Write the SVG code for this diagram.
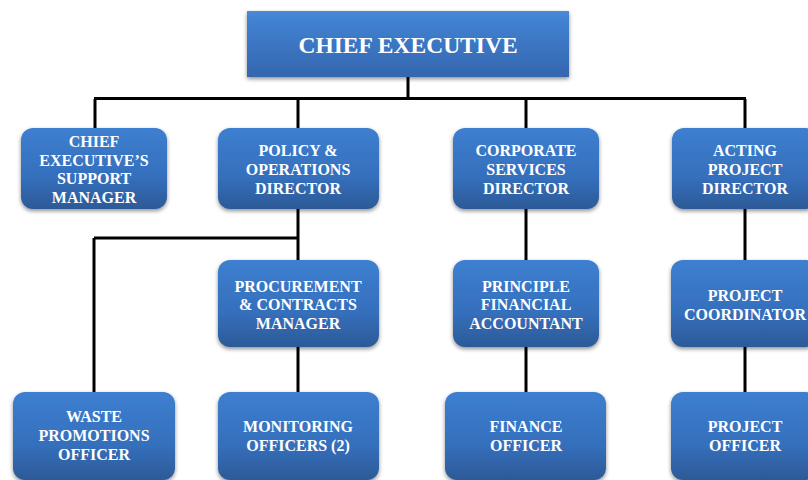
<svg xmlns="http://www.w3.org/2000/svg" width="808" height="480" viewBox="0 0 808 480">
<defs>
<linearGradient id="g" x1="0" y1="0" x2="0" y2="1">
<stop offset="0" stop-color="#3d7fd0"/>
<stop offset="0.6" stop-color="#356fbc"/>
<stop offset="1" stop-color="#2c5a97"/>
</linearGradient>
<linearGradient id="gt" x1="0" y1="0" x2="0" y2="1">
<stop offset="0" stop-color="#4a8ad8"/>
<stop offset="0.1" stop-color="#4283d3"/>
<stop offset="1" stop-color="#3466ae"/>
</linearGradient>
<filter id="sh" x="-10%" y="-10%" width="120%" height="130%">
<feGaussianBlur in="SourceAlpha" stdDeviation="2"/>
<feOffset dx="0" dy="2" result="b"/>
<feComponentTransfer><feFuncA type="linear" slope="0.45"/></feComponentTransfer>
<feMerge><feMergeNode/><feMergeNode in="SourceGraphic"/></feMerge>
</filter>
</defs>
<style>
.n{fill:url(#g);filter:url(#sh)}
.t{fill:url(#gt);filter:url(#sh)}
text{font-family:"Liberation Serif","Times New Roman",serif;font-weight:bold;fill:#ffffff;text-anchor:middle;font-size:16px}
.big{font-size:23.5px}
.c{stroke:#000;stroke-width:3;fill:none}
</style>
<rect width="808" height="480" fill="#ffffff"/>
<g id="connectors">
<path class="c" d="M408,77V99M94,98.5H746M95,99V128M298,99V128M526,99V128M745,99V128"/>
<path class="c" d="M298,209V260M94,238H298M94,238V392M298,347V392"/>
<path class="c" d="M526,209V260M526,347V392"/>
<path class="c" d="M745,209V260M745,347V392"/>
</g>
<g id="chief-executive">
<rect class="t" x="247" y="11" width="322" height="66"/>
<text class="big" x="408" y="53">CHIEF EXECUTIVE</text>
</g>
<g id="support-manager">
<rect class="n" x="21" y="128" width="146" height="81" rx="12"/>
<text x="94" y="146.5">CHIEF</text>
<text x="94" y="165.5">EXECUTIVE’S</text>
<text x="94" y="184">SUPPORT</text>
<text x="94" y="202.5">MANAGER</text>
</g>
<g id="policy-director">
<rect class="n" x="218" y="128" width="161" height="81" rx="12"/>
<text x="298" y="156">POLICY &amp;</text>
<text x="298" y="175">OPERATIONS</text>
<text x="298" y="193.5">DIRECTOR</text>
</g>
<g id="corporate-director">
<rect class="n" x="453" y="128" width="146" height="81" rx="12"/>
<text x="526" y="156">CORPORATE</text>
<text x="526" y="175">SERVICES</text>
<text x="526" y="193.5">DIRECTOR</text>
</g>
<g id="project-director">
<rect class="n" x="672" y="128" width="146" height="81" rx="12"/>
<text x="745" y="156">ACTING</text>
<text x="745" y="175">PROJECT</text>
<text x="745" y="193.5">DIRECTOR</text>
</g>
<g id="procurement-manager">
<rect class="n" x="218" y="260" width="161" height="87" rx="12"/>
<text x="298" y="291.5">PROCUREMENT</text>
<text x="298" y="310">&amp; CONTRACTS</text>
<text x="298" y="329">MANAGER</text>
</g>
<g id="financial-accountant">
<rect class="n" x="453" y="260" width="146" height="87" rx="12"/>
<text x="526" y="291.5">PRINCIPLE</text>
<text x="526" y="310">FINANCIAL</text>
<text x="526" y="329">ACCOUNTANT</text>
</g>
<g id="project-coordinator">
<rect class="n" x="671" y="260" width="147" height="87" rx="12"/>
<text x="745" y="301">PROJECT</text>
<text x="745" y="319.5">COORDINATOR</text>
</g>
<g id="waste-officer">
<rect class="n" x="13" y="392" width="162" height="88" rx="12"/>
<text x="94" y="422">WASTE</text>
<text x="94" y="441">PROMOTIONS</text>
<text x="94" y="460">OFFICER</text>
</g>
<g id="monitoring-officers">
<rect class="n" x="218" y="392" width="161" height="88" rx="12"/>
<text x="298" y="432">MONITORING</text>
<text x="298" y="451">OFFICERS (2)</text>
</g>
<g id="finance-officer">
<rect class="n" x="445" y="392" width="161" height="88" rx="12"/>
<text x="526" y="432">FINANCE</text>
<text x="526" y="451">OFFICER</text>
</g>
<g id="project-officer">
<rect class="n" x="671" y="392" width="147" height="88" rx="12"/>
<text x="745" y="432">PROJECT</text>
<text x="745" y="451">OFFICER</text>
</g>
</svg>
